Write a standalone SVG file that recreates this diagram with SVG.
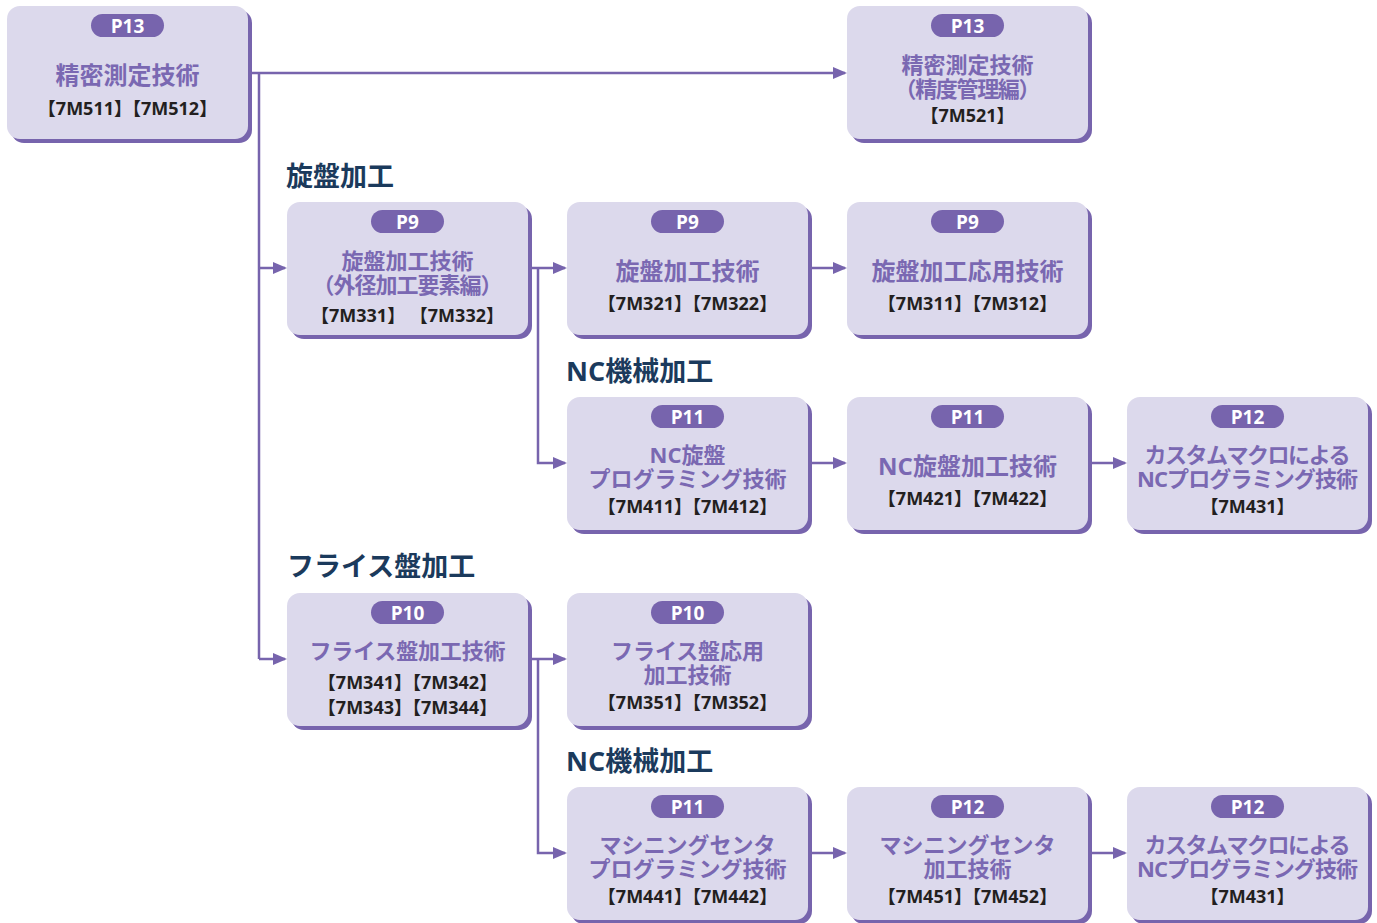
<svg xmlns="http://www.w3.org/2000/svg" width="1377" height="923" viewBox="0 0 1377 923">
<defs>
<style>
.sh{fill:#7764ad}
.bx{fill:#dcd9ec}
.pl{fill:#7764ad}
.pt{fill:#ffffff;font-family:"Open Sans","Noto Sans CJK JP",sans-serif;font-weight:700;font-size:19px;text-anchor:middle}
.tt{fill:#7a68b2;font-family:"Open Sans","Noto Sans CJK JP",sans-serif;font-weight:700;font-size:24px;text-anchor:middle}
.s22{font-size:22px}
.cd{fill:#231f20;font-family:"Open Sans","Noto Sans CJK JP",sans-serif;font-weight:700;font-size:18px;text-anchor:middle}
.hd{fill:#1b3a5c;font-family:"Open Sans","Noto Sans CJK JP",sans-serif;font-weight:700;font-size:27px}
.ln{fill:none;stroke:#7764ad;stroke-width:2.5}
</style>
<marker id="ah" markerUnits="userSpaceOnUse" markerWidth="14" markerHeight="12" refX="12" refY="6" orient="auto">
<path d="M0,0 L14,6 L0,12 z" fill="#7764ad"/>
</marker>
</defs>
<rect width="1377" height="923" fill="#ffffff"/>

<g id="connectors">
<path class="ln" d="M248,73 H845" marker-end="url(#ah)"/>
<path class="ln" d="M259,73 V659"/>
<path class="ln" d="M259,268 H285" marker-end="url(#ah)"/>
<path class="ln" d="M259,659 H285" marker-end="url(#ah)"/>
<path class="ln" d="M528,268 H565" marker-end="url(#ah)"/>
<path class="ln" d="M538,268 V463 H565" marker-end="url(#ah)"/>
<path class="ln" d="M808,268 H845" marker-end="url(#ah)"/>
<path class="ln" d="M808,463 H845" marker-end="url(#ah)"/>
<path class="ln" d="M1088,463 H1125" marker-end="url(#ah)"/>
<path class="ln" d="M528,659 H565" marker-end="url(#ah)"/>
<path class="ln" d="M538,659 V853 H565" marker-end="url(#ah)"/>
<path class="ln" d="M808,853 H845" marker-end="url(#ah)"/>
<path class="ln" d="M1088,853 H1125" marker-end="url(#ah)"/>
</g>

<g id="headings">
<text class="hd" x="286" y="186">旋盤加工</text>
<text class="hd" x="566" y="381">NC機械加工</text>
<text class="hd" x="287" y="576">フライス盤加工</text>
<text class="hd" x="566" y="771">NC機械加工</text>
</g>

<g id="n1" transform="translate(7,6)">
<rect class="sh" x="4" y="4" width="241" height="133" rx="13"/>
<rect class="bx" width="241" height="133" rx="13"/>
<rect class="pl" x="84" y="8" width="73" height="23" rx="11.5"/>
<text class="pt" x="120.5" y="27">P13</text>
<text class="tt" x="120.5" y="78">精密測定技術</text>
<text class="cd" x="120.5" y="109">【7M511】【7M512】</text>
</g>

<g id="n2" transform="translate(847,6)">
<rect class="sh" x="4" y="4" width="241" height="133" rx="13"/>
<rect class="bx" width="241" height="133" rx="13"/>
<rect class="pl" x="84" y="8" width="73" height="23" rx="11.5"/>
<text class="pt" x="120.5" y="27">P13</text>
<text class="tt s22" x="120.5" y="67">精密測定技術</text>
<text class="tt s22" x="120.5" y="91" textLength="146" lengthAdjust="spacing">（精度管理編）</text>
<text class="cd" x="120.5" y="116">【7M521】</text>
</g>

<g id="n3" transform="translate(287,202)">
<rect class="sh" x="4" y="4" width="241" height="133" rx="13"/>
<rect class="bx" width="241" height="133" rx="13"/>
<rect class="pl" x="84" y="8" width="73" height="23" rx="11.5"/>
<text class="pt" x="120.5" y="27">P9</text>
<text class="tt s22" x="120.5" y="67">旋盤加工技術</text>
<text class="tt s22" x="120.5" y="91" textLength="190" lengthAdjust="spacing">（外径加工要素編）</text>
<text class="cd" x="120.5" y="120">【7M331】 【7M332】</text>
</g>

<g id="n4" transform="translate(567,202)">
<rect class="sh" x="4" y="4" width="241" height="133" rx="13"/>
<rect class="bx" width="241" height="133" rx="13"/>
<rect class="pl" x="84" y="8" width="73" height="23" rx="11.5"/>
<text class="pt" x="120.5" y="27">P9</text>
<text class="tt" x="120.5" y="78">旋盤加工技術</text>
<text class="cd" x="120.5" y="108">【7M321】【7M322】</text>
</g>

<g id="n5" transform="translate(847,202)">
<rect class="sh" x="4" y="4" width="241" height="133" rx="13"/>
<rect class="bx" width="241" height="133" rx="13"/>
<rect class="pl" x="84" y="8" width="73" height="23" rx="11.5"/>
<text class="pt" x="120.5" y="27">P9</text>
<text class="tt" x="120.5" y="78">旋盤加工応用技術</text>
<text class="cd" x="120.5" y="108">【7M311】【7M312】</text>
</g>

<g id="n6" transform="translate(567,397)">
<rect class="sh" x="4" y="4" width="241" height="133" rx="13"/>
<rect class="bx" width="241" height="133" rx="13"/>
<rect class="pl" x="84" y="8" width="73" height="23" rx="11.5"/>
<text class="pt" x="120.5" y="27">P11</text>
<text class="tt s22" x="120.5" y="66">NC旋盤</text>
<text class="tt s22" x="120.5" y="90" textLength="198" lengthAdjust="spacing">プログラミング技術</text>
<text class="cd" x="120.5" y="116">【7M411】【7M412】</text>
</g>

<g id="n7" transform="translate(847,397)">
<rect class="sh" x="4" y="4" width="241" height="133" rx="13"/>
<rect class="bx" width="241" height="133" rx="13"/>
<rect class="pl" x="84" y="8" width="73" height="23" rx="11.5"/>
<text class="pt" x="120.5" y="27">P11</text>
<text class="tt" x="120.5" y="78">NC旋盤加工技術</text>
<text class="cd" x="120.5" y="108">【7M421】【7M422】</text>
</g>

<g id="n8" transform="translate(1127,397)">
<rect class="sh" x="4" y="4" width="241" height="133" rx="13"/>
<rect class="bx" width="241" height="133" rx="13"/>
<rect class="pl" x="84" y="8" width="73" height="23" rx="11.5"/>
<text class="pt" x="120.5" y="27">P12</text>
<text class="tt s22" x="120.5" y="66" textLength="206" lengthAdjust="spacing">カスタムマクロによる</text>
<text class="tt s22" x="120.5" y="90" textLength="221" lengthAdjust="spacing">NCプログラミング技術</text>
<text class="cd" x="120.5" y="116">【7M431】</text>
</g>

<g id="n9" transform="translate(287,593)">
<rect class="sh" x="4" y="4" width="241" height="133" rx="13"/>
<rect class="bx" width="241" height="133" rx="13"/>
<rect class="pl" x="84" y="8" width="73" height="23" rx="11.5"/>
<text class="pt" x="120.5" y="27">P10</text>
<text class="tt s22" x="120.5" y="66" textLength="196" lengthAdjust="spacing">フライス盤加工技術</text>
<text class="cd" x="120.5" y="96">【7M341】【7M342】</text>
<text class="cd" x="120.5" y="121">【7M343】【7M344】</text>
</g>

<g id="n10" transform="translate(567,593)">
<rect class="sh" x="4" y="4" width="241" height="133" rx="13"/>
<rect class="bx" width="241" height="133" rx="13"/>
<rect class="pl" x="84" y="8" width="73" height="23" rx="11.5"/>
<text class="pt" x="120.5" y="27">P10</text>
<text class="tt s22" x="120.5" y="66" textLength="153" lengthAdjust="spacing">フライス盤応用</text>
<text class="tt s22" x="120.5" y="90">加工技術</text>
<text class="cd" x="120.5" y="116">【7M351】【7M352】</text>
</g>

<g id="n11" transform="translate(567,787)">
<rect class="sh" x="4" y="4" width="241" height="133" rx="13"/>
<rect class="bx" width="241" height="133" rx="13"/>
<rect class="pl" x="84" y="8" width="73" height="23" rx="11.5"/>
<text class="pt" x="120.5" y="27">P11</text>
<text class="tt s22" x="120.5" y="66" textLength="176" lengthAdjust="spacing">マシニングセンタ</text>
<text class="tt s22" x="120.5" y="90" textLength="198" lengthAdjust="spacing">プログラミング技術</text>
<text class="cd" x="120.5" y="116">【7M441】【7M442】</text>
</g>

<g id="n12" transform="translate(847,787)">
<rect class="sh" x="4" y="4" width="241" height="133" rx="13"/>
<rect class="bx" width="241" height="133" rx="13"/>
<rect class="pl" x="84" y="8" width="73" height="23" rx="11.5"/>
<text class="pt" x="120.5" y="27">P12</text>
<text class="tt s22" x="120.5" y="66" textLength="176" lengthAdjust="spacing">マシニングセンタ</text>
<text class="tt s22" x="120.5" y="90">加工技術</text>
<text class="cd" x="120.5" y="116">【7M451】【7M452】</text>
</g>

<g id="n13" transform="translate(1127,787)">
<rect class="sh" x="4" y="4" width="241" height="133" rx="13"/>
<rect class="bx" width="241" height="133" rx="13"/>
<rect class="pl" x="84" y="8" width="73" height="23" rx="11.5"/>
<text class="pt" x="120.5" y="27">P12</text>
<text class="tt s22" x="120.5" y="66" textLength="206" lengthAdjust="spacing">カスタムマクロによる</text>
<text class="tt s22" x="120.5" y="90" textLength="221" lengthAdjust="spacing">NCプログラミング技術</text>
<text class="cd" x="120.5" y="116">【7M431】</text>
</g>
</svg>
